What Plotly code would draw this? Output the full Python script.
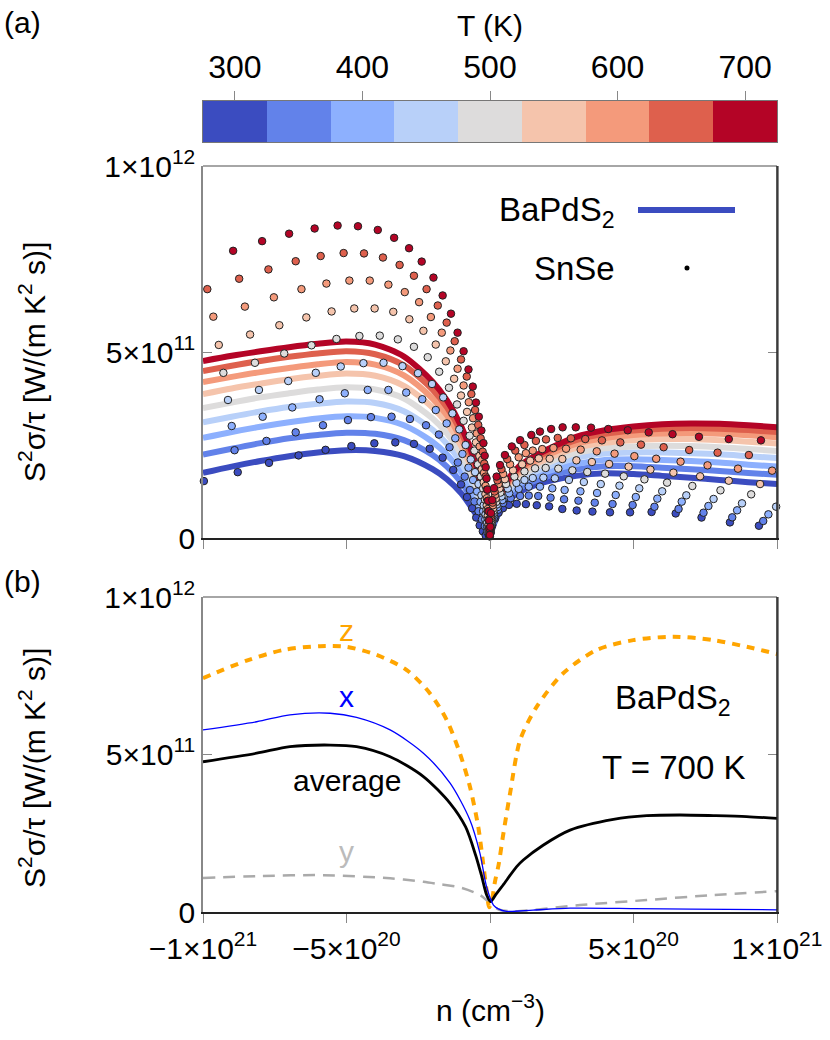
import plotly.graph_objects as go

FONT = "Liberation Sans, Arial, Helvetica, sans-serif"

# ---------------- data ----------------
T_LIST = [300, 350, 400, 450, 500, 550, 600, 650, 700]
T_COLORS = ["#3b4cc0", "#6282ea", "#8db0fe", "#b8d0f9", "#dddcdc",
            "#f5c4ac", "#f49a7b", "#de604d", "#b40426"]

# carrier concentration n in units of 1e20 cm^-3 ; S^2 sigma/tau in units of 1e11
N_LEFT = [-10, -9, -8, -7, -6, -5, -4, -3, -2, -1.5, -1, -0.5, -0.25, -0.1, 0]
N_RIGHT = [0, 0.1, 0.25, 0.5, 1, 1.5, 2, 3, 4, 5, 6, 7, 8, 9, 10]

BAPDS2_LEFT = {
    300: [1.75, 1.92, 2.07, 2.20, 2.30, 2.36, 2.34, 2.20, 1.85, 1.58, 1.20, 0.65, 0.33, 0.14, 0],
    350: [2.24, 2.40, 2.55, 2.68, 2.77, 2.83, 2.80, 2.63, 2.23, 1.92, 1.49, 0.87, 0.47, 0.21, 0],
    400: [2.69, 2.85, 2.99, 3.11, 3.21, 3.27, 3.23, 3.03, 2.58, 2.24, 1.76, 1.07, 0.60, 0.27, 0],
    450: [3.11, 3.26, 3.40, 3.52, 3.61, 3.67, 3.63, 3.41, 2.91, 2.53, 2.01, 1.26, 0.72, 0.33, 0],
    500: [3.49, 3.64, 3.78, 3.89, 3.99, 4.05, 3.99, 3.75, 3.21, 2.81, 2.24, 1.43, 0.83, 0.38, 0],
    550: [3.87, 4.02, 4.15, 4.27, 4.36, 4.42, 4.36, 4.09, 3.51, 3.08, 2.47, 1.60, 0.94, 0.43, 0],
    600: [4.19, 4.33, 4.46, 4.57, 4.67, 4.73, 4.66, 4.37, 3.75, 3.30, 2.66, 1.74, 1.04, 0.47, 0],
    650: [4.49, 4.63, 4.76, 4.87, 4.96, 5.02, 4.94, 4.64, 3.99, 3.51, 2.84, 1.88, 1.12, 0.51, 0],
    700: [4.76, 4.90, 5.02, 5.13, 5.22, 5.28, 5.20, 4.88, 4.20, 3.70, 3.00, 2.00, 1.20, 0.55, 0],
}
BAPDS2_RIGHT = {
    300: [0, 0.30, 0.58, 0.92, 1.22, 1.40, 1.52, 1.67, 1.74, 1.72, 1.67, 1.62, 1.56, 1.50, 1.45],
    350: [0, 0.34, 0.64, 1.00, 1.33, 1.52, 1.66, 1.84, 1.93, 1.93, 1.89, 1.85, 1.80, 1.75, 1.70],
    400: [0, 0.38, 0.69, 1.08, 1.44, 1.64, 1.79, 1.99, 2.10, 2.12, 2.10, 2.07, 2.03, 1.97, 1.92],
    450: [0, 0.42, 0.75, 1.15, 1.54, 1.75, 1.91, 2.15, 2.27, 2.30, 2.30, 2.28, 2.25, 2.20, 2.15],
    500: [0, 0.45, 0.79, 1.21, 1.63, 1.85, 2.02, 2.28, 2.41, 2.46, 2.48, 2.47, 2.44, 2.39, 2.34],
    550: [0, 0.48, 0.84, 1.28, 1.72, 1.95, 2.13, 2.42, 2.56, 2.63, 2.66, 2.66, 2.63, 2.59, 2.54],
    600: [0, 0.51, 0.88, 1.33, 1.79, 2.04, 2.23, 2.53, 2.69, 2.77, 2.81, 2.82, 2.80, 2.76, 2.71],
    650: [0, 0.53, 0.92, 1.38, 1.86, 2.11, 2.31, 2.63, 2.80, 2.89, 2.94, 2.96, 2.94, 2.90, 2.85],
    700: [0, 0.55, 0.95, 1.42, 1.92, 2.18, 2.38, 2.72, 2.90, 3.00, 3.06, 3.08, 3.07, 3.03, 2.98],
}

# SnSe points (n, value) per temperature
SNSE_N = {
    700: [-8.95, -7.94, -7.00, -6.11, -5.31, -4.60, -3.91, -3.34, -2.82, -2.38, -1.97, -1.65, -1.36, -1.13,
          -0.92, -0.75, -0.60, -0.49, -0.39, -0.30, -0.23, -0.185, -0.15, -0.12, -0.09, -0.065, -0.045,
          -0.028, -0.015, -0.005,
          0.01, 0.035, 0.08, 0.14, 0.23, 0.35, 0.52, 0.76, 1.05, 1.44, 1.74, 2.13, 2.53, 2.99, 3.52,
          4.12, 4.80, 5.53, 6.36, 7.28, 8.32, 9.44],
    650: [-9.85, -8.74, -7.72, -6.77, -5.90, -5.10, -4.39, -3.73, -3.15, -2.65, -2.21, -1.82, -1.51, -1.23,
          -1.01, -0.81, -0.65, -0.52, -0.41, -0.325, -0.255, -0.20, -0.15, -0.11, -0.08, -0.055, -0.035,
          -0.018, -0.006,
          0.012, 0.04, 0.09, 0.16, 0.26, 0.40, 0.60, 0.88, 1.20, 1.60, 1.95, 2.36, 2.82, 3.32, 3.90,
          4.54, 5.26, 6.05, 6.94, 7.93, 9.02],
    600: [-9.64, -8.54, -7.53, -6.57, -5.70, -4.90, -4.19, -3.54, -2.97, -2.47, -2.06, -1.68, -1.38, -1.13,
          -0.92, -0.74, -0.59, -0.46, -0.36, -0.28, -0.21, -0.155, -0.11, -0.075, -0.045, -0.022, -0.007,
          0.014, 0.045, 0.10, 0.18, 0.30, 0.46, 0.70, 1.00, 1.25, 1.49, 1.82, 2.21, 2.65, 3.16, 3.72,
          4.34, 5.03, 5.79, 6.64, 7.58, 8.64, 9.83],
    550: [-9.45, -8.36, -7.34, -6.40, -5.52, -4.73, -4.02, -3.37, -2.81, -2.32, -1.89, -1.54, -1.25, -1.01,
          -0.80, -0.63, -0.49, -0.37, -0.29, -0.22, -0.16, -0.115, -0.078, -0.045, -0.02, -0.006,
          0.016, 0.05, 0.11, 0.20, 0.33, 0.52, 0.80, 1.12, 1.40, 1.70, 2.08, 2.52, 3.01, 3.55, 4.15,
          4.83, 5.59, 6.39, 7.32, 8.32, 9.41],
    500: [-9.29, -8.19, -7.17, -6.22, -5.35, -4.55, -3.84, -3.21, -2.65, -2.17, -1.77, -1.43, -1.15, -0.92,
          -0.71, -0.545, -0.42, -0.32, -0.24, -0.175, -0.125, -0.085, -0.05, -0.022, -0.006,
          0.018, 0.055, 0.12, 0.22, 0.36, 0.56, 0.85, 1.20, 1.57, 1.94, 2.38, 2.87, 3.39, 4.01, 4.66,
          5.38, 6.17, 7.05, 8.03, 9.10],
    450: [-9.13, -8.05, -7.03, -6.07, -5.20, -4.41, -3.71, -3.05, -2.51, -2.02, -1.63, -1.31, -1.07, -0.85,
          -0.67, -0.52, -0.40, -0.30, -0.22, -0.155, -0.10, -0.055, -0.022,
          0.02, 0.06, 0.13, 0.24, 0.40, 0.62, 0.92, 1.20, 1.49, 1.86, 2.26, 2.75, 3.27, 3.86, 4.51,
          5.20, 6.00, 6.84, 7.79, 8.78, 9.97],
    400: [-9.00, -7.92, -6.89, -5.94, -5.06, -4.26, -3.54, -2.92, -2.36, -1.89, -1.51, -1.21, -0.96, -0.75,
          -0.59, -0.45, -0.33, -0.24, -0.165, -0.10, -0.05, -0.018,
          0.022, 0.065, 0.14, 0.26, 0.43, 0.67, 1.00, 1.35, 1.74, 2.17, 2.60, 3.15, 3.73, 4.38, 5.08,
          5.83, 6.68, 7.61, 8.61, 9.70],
    350: [-8.90, -7.79, -6.77, -5.82, -4.95, -4.15, -3.43, -2.79, -2.23, -1.78, -1.41, -1.12, -0.88, -0.70,
          -0.54, -0.40, -0.28, -0.18, -0.10, -0.04,
          0.024, 0.07, 0.15, 0.28, 0.46, 0.72, 1.05, 1.35, 1.68, 2.11, 2.58, 3.08, 3.65, 4.27, 4.97,
          5.73, 6.57, 7.44, 8.44, 9.52],
    300: [-9.97, -8.79, -7.70, -6.67, -5.73, -4.83, -4.03, -3.30, -2.65, -2.10, -1.65, -1.28, -1.01, -0.80,
          -0.62, -0.48, -0.36, -0.25, -0.15,
          0.026, 0.075, 0.17, 0.30, 0.45, 0.66, 0.93, 1.25, 1.63, 2.06, 2.52, 3.02, 3.57, 4.18, 4.88,
          5.63, 6.47, 7.37, 8.36, 9.37],
}
SNSE_V = {
    700: [7.72, 7.98, 8.18, 8.32, 8.40, 8.38, 8.28, 8.07, 7.79, 7.43, 7.00, 6.52, 6.03, 5.52,
          5.02, 4.53, 4.07, 3.64, 3.26, 2.89, 2.55, 2.21, 1.90, 1.60, 1.30, 1.00, 0.72,
          0.47, 0.25, 0.08,
          0.30, 0.67, 1.02, 1.34, 1.65, 1.96, 2.23, 2.46, 2.63, 2.77, 2.86, 2.93, 2.975, 2.975, 2.966,
          2.93, 2.895, 2.84, 2.79, 2.72, 2.66, 2.625],
    650: [6.69, 6.97, 7.22, 7.44, 7.58, 7.66, 7.65, 7.54, 7.34, 7.05, 6.69, 6.25, 5.79, 5.29,
          4.80, 4.34, 3.87, 3.44, 3.04, 2.68, 2.32, 2.00, 1.65, 1.30, 1.00, 0.72, 0.47,
          0.25, 0.08,
          0.28, 0.62, 0.95, 1.25, 1.55, 1.85, 2.12, 2.35, 2.50, 2.61, 2.65, 2.69, 2.68, 2.66, 2.625,
          2.57, 2.51, 2.44, 2.365, 2.294, 2.23],
    600: [5.95, 6.22, 6.47, 6.69, 6.84, 6.92, 6.92, 6.81, 6.61, 6.34, 5.94, 5.52, 5.04, 4.55,
          4.10, 3.65, 3.22, 2.81, 2.46, 2.10, 1.75, 1.40, 1.07, 0.78, 0.50, 0.27, 0.09,
          0.26, 0.57, 0.88, 1.16, 1.45, 1.72, 1.98, 2.17, 2.28, 2.35, 2.39, 2.42, 2.40, 2.375, 2.33,
          2.267, 2.20, 2.13, 2.052, 1.953, 1.864, 1.81],
    550: [5.19, 5.47, 5.72, 5.93, 6.09, 6.17, 6.17, 6.08, 5.88, 5.57, 5.20, 4.75, 4.28, 3.83,
          3.39, 2.97, 2.57, 2.205, 1.85, 1.50, 1.18, 0.88, 0.60, 0.36, 0.17, 0.05,
          0.24, 0.52, 0.80, 1.06, 1.33, 1.58, 1.82, 1.98, 2.08, 2.14, 2.13, 2.124, 2.088, 2.043, 1.99,
          1.918, 1.837, 1.756, 1.658, 1.54, 1.45],
    500: [4.44, 4.71, 4.96, 5.18, 5.35, 5.43, 5.44, 5.34, 5.14, 4.86, 4.47, 4.04, 3.59, 3.15,
          2.75, 2.35, 1.98, 1.65, 1.33, 1.03, 0.77, 0.53, 0.32, 0.15, 0.04,
          0.22, 0.48, 0.73, 0.97, 1.22, 1.45, 1.65, 1.79, 1.873, 1.882, 1.864, 1.819, 1.774, 1.73, 1.658,
          1.577, 1.488, 1.398, 1.282, 1.174],
    450: [3.71, 3.98, 4.22, 4.44, 4.61, 4.70, 4.71, 4.62, 4.43, 4.14, 3.78, 3.35, 2.92, 2.50,
          2.11, 1.77, 1.45, 1.15, 0.88, 0.64, 0.42, 0.24, 0.10,
          0.20, 0.44, 0.67, 0.90, 1.12, 1.33, 1.48, 1.56, 1.613, 1.622, 1.604, 1.56, 1.505, 1.45, 1.407,
          1.335, 1.255, 1.147, 1.049, 0.932, 0.842],
    400: [3.01, 3.26, 3.51, 3.73, 3.89, 3.98, 3.98, 3.91, 3.73, 3.44, 3.08, 2.68, 2.26, 1.89,
          1.56, 1.25, 0.97, 0.72, 0.50, 0.31, 0.16, 0.06,
          0.18, 0.40, 0.62, 0.83, 1.02, 1.20, 1.32, 1.38, 1.38, 1.335, 1.29, 1.255, 1.21, 1.156, 1.102,
          1.058, 0.977, 0.86, 0.744, 0.636],
    350: [2.36, 2.61, 2.84, 3.03, 3.17, 3.25, 3.26, 3.20, 3.03, 2.78, 2.44, 2.03, 1.65, 1.29,
          0.98, 0.72, 0.50, 0.32, 0.17, 0.07,
          0.16, 0.36, 0.56, 0.76, 0.94, 1.07, 1.13, 1.14, 1.129, 1.084, 1.04, 1.004, 0.95, 0.914, 0.887,
          0.84, 0.78, 0.68, 0.556, 0.457],
    300: [1.53, 1.77, 2.02, 2.22, 2.37, 2.47, 2.545, 2.57, 2.53, 2.40, 2.16, 1.83, 1.44, 1.10,
          0.80, 0.55, 0.34, 0.18, 0.07,
          0.15, 0.33, 0.52, 0.68, 0.80, 0.89, 0.92, 0.91, 0.88, 0.85, 0.78, 0.74, 0.71, 0.69, 0.69,
          0.70, 0.66, 0.55, 0.42, 0.33],
}

# panel (b): BaPdS2 at T = 700 K, tensor components
Z_N = [-10, -9.64, -8.48, -7.2, -5.92, -5.0, -3.95, -2.9, -2.09, -1.51, -1.05, -0.7, -0.41, -0.24, -0.1,
       -0.03, 0.05, 0.17, 0.3, 0.45, 0.7, 1.05, 1.63, 2.55, 3.72, 4.99, 6.39, 7.78, 8.94, 10]
Z_V = [7.42, 7.56, 7.98, 8.32, 8.44, 8.42, 8.16, 7.68, 6.94, 6.10, 5.04, 3.98, 2.71, 1.55, 0.55,
       0.15, 0.30, 0.95, 1.50, 2.40, 3.77, 5.46, 6.52, 7.58, 8.32, 8.63, 8.74, 8.63, 8.42, 8.19]
X_N = [-10, -8.13, -6.97, -5.57, -4.65, -3.48, -2.32, -1.39, -0.70, -0.35, -0.12, 0.12, 0.29, 0.58,
       1.5, 2.79, 5, 7, 10]
X_V = [5.78, 6.04, 6.26, 6.31, 6.18, 5.78, 5.04, 4.09, 2.92, 1.86, 0.80, 0.22, 0.10, 0.02,
       0.06, 0.12, 0.11, 0.09, 0.07]
AVG_N = [-10, -8.13, -6.97, -5.57, -4.65, -3.48, -2.32, -1.39, -0.85, -0.5, -0.28, -0.12, 0.02, 0.2,
         0.45, 0.93, 1.16, 1.85, 2.79, 4.30, 5.46, 6.62, 7.78, 8.94, 10]
AVG_V = [4.77, 5.04, 5.25, 5.30, 5.25, 4.93, 4.30, 3.45, 2.70, 1.80, 1.10, 0.55, 0.33, 0.55,
         0.85, 1.44, 1.65, 2.12, 2.60, 2.94, 3.06, 3.08, 3.06, 3.03, 2.97]
Y_N = [-10, -8.13, -5.8, -3.48, -2.32, -1.74, -1.05, -0.35, 0, 0.3, 0.81, 3.14, 5.46, 7.78, 10]
Y_V = [1.08, 1.14, 1.17, 1.07, 0.96, 0.88, 0.78, 0.54, 0.28, 0.08, 0.02, 0.22, 0.38, 0.54, 0.66]

X_TICKS = [-10, -5, 0, 5, 10]
X_TICKTEXT = ["\u22121\u00d710<sup>21</sup>", "\u22125\u00d710<sup>20</sup>", "0",
              "5\u00d710<sup>20</sup>", "1\u00d710<sup>21</sup>"]
Y_TICKS = [0, 5, 10]
Y_TICKTEXT = ["0", "5\u00d710<sup>11</sup>", "1\u00d710<sup>12</sup>"]
CB_TICKS = [300, 400, 500, 600, 700]

# ---------------- figure ----------------
W, H = 830, 1040
def px(x):
    return x / W
def py(y):
    return 1 - y / H

fig = go.Figure()

# colour bar as a heatmap strip
cscale = [[i / (len(T_COLORS) - 1), c] for i, c in enumerate(T_COLORS)]
fig.add_trace(go.Heatmap(x=T_LIST, y=[0], z=[T_LIST], colorscale=cscale, zmin=T_LIST[0],
                         zmax=T_LIST[-1], showscale=False, hoverinfo="skip",
                         xaxis="x3", yaxis="y3"))

# panel (a) lines
for T, col in zip(T_LIST, T_COLORS):
    for nn, vv in ((N_LEFT, BAPDS2_LEFT[T]), (N_RIGHT, BAPDS2_RIGHT[T])):
        fig.add_trace(go.Scatter(x=nn, y=vv, mode="lines",
                                 line=dict(color=col, width=6, shape="spline", smoothing=0.8),
                                 showlegend=False, hoverinfo="skip", xaxis="x", yaxis="y"))
# panel (a) dots
for T, col in zip(T_LIST, T_COLORS):
    fig.add_trace(go.Scatter(x=SNSE_N[T], y=SNSE_V[T], mode="markers",
                             marker=dict(color=col, size=7.5, line=dict(color="#222222", width=1)),
                             cliponaxis=False, showlegend=False, xaxis="x", yaxis="y"))

# panel (b)
fig.add_trace(go.Scatter(x=Y_N, y=Y_V, mode="lines",
                         line=dict(color="#aaaaaa", width=2.5, dash="12px,8px", shape="spline", smoothing=0.8),
                         showlegend=False, xaxis="x2", yaxis="y2"))
fig.add_trace(go.Scatter(x=Z_N, y=Z_V, mode="lines",
                         line=dict(color="#ffa500", width=4, dash="8px,7px", shape="spline", smoothing=0.8),
                         showlegend=False, xaxis="x2", yaxis="y2"))
fig.add_trace(go.Scatter(x=AVG_N, y=AVG_V, mode="lines",
                         line=dict(color="#000000", width=2.8, shape="spline", smoothing=0.8),
                         showlegend=False, xaxis="x2", yaxis="y2"))
fig.add_trace(go.Scatter(x=X_N, y=X_V, mode="lines",
                         line=dict(color="#0000ff", width=1.3, shape="spline", smoothing=0.8),
                         showlegend=False, xaxis="x2", yaxis="y2"))

XDOM = [px(203), px(777)]
tickfont = dict(family=FONT, size=30, color="black")
common_x = dict(domain=XDOM, range=[-10, 10], tickvals=X_TICKS, ticktext=X_TICKTEXT,
                ticks="outside", ticklen=9, tickcolor="#888888", showline=True,
                linecolor="#222222", linewidth=1.5, showgrid=False, zeroline=False,
                tickfont=tickfont, fixedrange=True, automargin=False)
common_y = dict(range=[0, 10], tickvals=Y_TICKS, ticktext=Y_TICKTEXT, ticks="inside",
                ticklen=9, tickcolor="#888888", showline=True, linecolor="#888888",
                linewidth=1.5, mirror="ticks", showgrid=False, zeroline=False,
                tickfont=tickfont, fixedrange=True, automargin=False)

fig.update_layout(
    width=W, height=H, margin=dict(l=0, r=0, t=0, b=0, autoexpand=False),
    paper_bgcolor="white", plot_bgcolor="white",
    font=dict(family=FONT, size=30, color="black"),
    xaxis=dict(common_x, anchor="y", showticklabels=False),
    yaxis=dict(common_y, domain=[py(538), py(166)], anchor="x"),
    xaxis2=dict(common_x, anchor="y2", showticklabels=True),
    yaxis2=dict(common_y, domain=[py(912), py(597)], anchor="x2"),
    xaxis3=dict(domain=XDOM, range=[275, 725], anchor="y3", side="top", tickvals=CB_TICKS,
                ticks="outside", ticklen=9, tickcolor="#888888", showline=True, mirror=True,
                linecolor="#777777", linewidth=1.2, showgrid=False, zeroline=False,
                tickfont=dict(family=FONT, size=32, color="black"), fixedrange=True,
                automargin=False),
    yaxis3=dict(domain=[py(142), py(101)], range=[-0.5, 0.5], anchor="x3", showticklabels=False,
                ticks="", showline=True, mirror=True, linecolor="#777777", linewidth=1.2,
                showgrid=False, zeroline=False, fixedrange=True, automargin=False),
)

shapes = []
for xr, yr in (("x domain", "y domain"), ("x2 domain", "y2 domain")):
    shapes.append(dict(type="line", xref=xr, yref=yr, x0=0, x1=1, y0=1, y1=1,
                       line=dict(color="#888888", width=1.5)))
    shapes.append(dict(type="line", xref=xr, yref=yr, x0=1, x1=1, y0=0, y1=1,
                       line=dict(color="#222222", width=1.5)))
# legend samples of panel (a)
shapes.append(dict(type="line", xref="paper", yref="paper", x0=px(638), x1=px(735),
                   y0=py(210), y1=py(210), line=dict(color=T_COLORS[0], width=6)))
shapes.append(dict(type="circle", xref="paper", yref="paper", x0=px(684.5), x1=px(689.5),
                   y0=py(270.5), y1=py(265.5), fillcolor="black", line=dict(color="black", width=0)))
fig.update_layout(shapes=shapes)

ann = []
def A(text, x, y, size=30, color="black", xanchor="center", yanchor="middle", angle=0,
      xref="paper", yref="paper"):
    ann.append(dict(text=text, x=x, y=y, xref=xref, yref=yref, showarrow=False,
                    font=dict(family=FONT, size=size, color=color), xanchor=xanchor,
                    yanchor=yanchor, textangle=angle))

A("(a)", px(22), py(22))
A("(b)", px(22), py(581))
A("T (K)", px(490), py(25))
A("S<sup>2</sup>\u03c3/\u03c4 [W/(m K<sup>2</sup> s)]", px(32), py(362), angle=-90)
A("S<sup>2</sup>\u03c3/\u03c4 [W/(m K<sup>2</sup> s)]", px(32), py(768), angle=-90)
A("n (cm<sup>\u22123</sup>)", px(490), py(1008))
A("BaPdS<sub>2</sub>", px(617), py(212), size=33, xanchor="right")
A("SnSe", px(617), py(268), size=33, xanchor="right")
A("BaPdS<sub>2</sub>", px(673), py(700), size=33)
A("T = 700 K", px(673), py(767), size=33)
A("z", -5.0, 8.95, color="#ffa500", xref="x2", yref="y2")
A("x", -5.0, 6.84, color="#0000ff", xref="x2", yref="y2")
A("average", -5.0, 4.19, xref="x2", yref="y2")
A("y", -5.0, 1.91, color="#bbbbbb", xref="x2", yref="y2")
fig.update_layout(annotations=ann)

fig.write_html("out.html", config={"displayModeBar": False},
               post_script="document.body.style.margin='0';document.body.style.overflow='hidden';")
